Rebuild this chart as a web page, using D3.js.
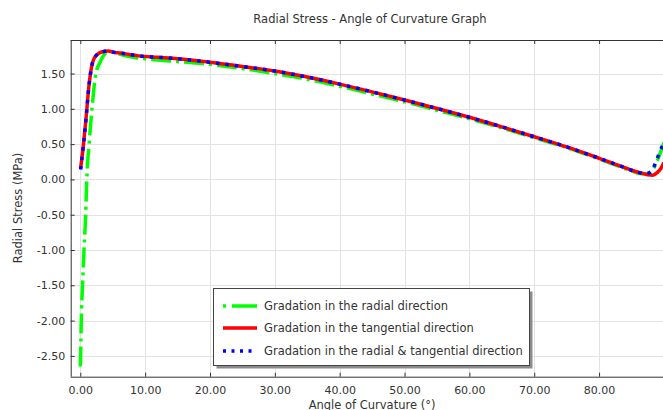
<!DOCTYPE html>
<html>
<head>
<meta charset="utf-8">
<script src="https://cdn.jsdelivr.net/npm/d3@7"></script>
<style>
  html, body { margin: 0; padding: 0; background: #fff; overflow: hidden; }
  svg { display: block; font-family: "DejaVu Sans", sans-serif; }
</style>
</head>
<body>
<svg id="chart" width="663" height="410"></svg>
<script>
// ---- data ----
const titleText = "Radial Stress - Angle of Curvature Graph";
const xLabel = "Angle of Curvature (°)";
const yLabel = "Radial Stress (MPa)";
const xTicks = [0, 10, 20, 30, 40, 50, 60, 70, 80];
const yTicks = [-2.5, -2.0, -1.5, -1.0, -0.5, 0.0, 0.5, 1.0, 1.5];
const seriesNames = [
  "Gradation in the radial direction",
  "Gradation in the tangential direction",
  "Gradation in the radial & tangential direction"
];

const angleRadial = [0.0, 0.05, 0.15, 0.35, 0.57, 0.83, 1.0, 1.36, 1.8, 2.4, 3.0, 3.8, 4.5, 5.5, 7, 9, 12, 15, 20, 25, 30, 35, 40, 45, 50, 55, 60, 65, 70, 75, 80, 83, 85, 86.5, 87.5, 88.3, 89, 89.5, 90];
const stressRadial = [-2.65, -2.5, -2.0, -1.5, -1.0, -0.5, 0.0, 0.5, 1.0, 1.5, 1.65, 1.78, 1.81, 1.79, 1.75, 1.72, 1.69, 1.67, 1.63, 1.57, 1.50, 1.42, 1.32, 1.21, 1.10, 0.98, 0.86, 0.73, 0.59, 0.45, 0.29, 0.19, 0.12, 0.08, 0.08, 0.14, 0.27, 0.39, 0.52];

const angleTangential = [0.05, 0.45, 0.85, 1.35, 1.9, 2.6, 3.5, 4.3, 5.2, 6.2, 7.5, 9, 12, 15, 20, 25, 30, 35, 40, 45, 50, 55, 60, 65, 70, 75, 80, 83, 85, 86.5, 87.5, 88.3, 89, 89.5, 90];
const stressTangential = [0.16, 0.46, 0.83, 1.34, 1.66, 1.77, 1.81, 1.82, 1.80, 1.79, 1.77, 1.75, 1.73, 1.71, 1.66, 1.60, 1.535, 1.45, 1.35, 1.24, 1.125, 1.005, 0.88, 0.745, 0.605, 0.46, 0.30, 0.20, 0.13, 0.09, 0.065, 0.06, 0.10, 0.15, 0.24];

const angleBoth = [0.05, 0.45, 0.85, 1.35, 1.9, 2.6, 3.5, 4.3, 5.2, 6.2, 7.5, 9, 12, 15, 20, 25, 30, 35, 40, 45, 50, 55, 60, 65, 70, 75, 80, 83, 85, 86.5, 87.2, 88.0, 88.7, 89.3, 90];
const stressBoth = [0.14, 0.46, 0.83, 1.34, 1.66, 1.77, 1.81, 1.82, 1.80, 1.79, 1.77, 1.75, 1.73, 1.71, 1.66, 1.60, 1.535, 1.45, 1.35, 1.24, 1.125, 1.005, 0.88, 0.745, 0.605, 0.46, 0.30, 0.20, 0.13, 0.09, 0.08, 0.11, 0.23, 0.38, 0.52];

const seriesColors = ["#00ff00", "#ff0000", "#0000ff"];
const seriesDash = ["20,5,3,5", null, "3.5,6"];

// ---- layout ----
const svg = d3.select("#chart");
const pLeft = 70.7, pRight = 670.4, pTop = 40, pBottom = 376.7;
const x = d3.scaleLinear().domain([-1.48, 91]).range([pLeft, pRight]);
const y = d3.scaleLinear().domain([-2.795, 1.975]).range([pBottom, pTop]);
const textColor = "#333";

// title
svg.append("text").attr("x", 370).attr("y", 23).attr("text-anchor", "middle")
  .attr("font-size", 11.5).attr("fill", textColor).text(titleText);

// grid
const grid = svg.append("g").attr("stroke", "#e3e3e3").attr("stroke-width", 1);
grid.selectAll(".gx").data(xTicks).join("line")
  .attr("x1", d => Math.round(x(d)) + 0.5).attr("x2", d => Math.round(x(d)) + 0.5)
  .attr("y1", pTop).attr("y2", pBottom);
grid.selectAll(".gy").data(yTicks).join("line")
  .attr("y1", d => Math.round(y(d)) + 0.5).attr("y2", d => Math.round(y(d)) + 0.5)
  .attr("x1", pLeft).attr("x2", pRight);

// clip
svg.append("clipPath").attr("id", "clip").append("rect")
  .attr("x", pLeft).attr("y", pTop).attr("width", pRight - pLeft).attr("height", pBottom - pTop);

const series = [
  { a: angleRadial, v: stressRadial },
  { a: angleTangential, v: stressTangential },
  { a: angleBoth, v: stressBoth }
];
const line = d3.line().x(d => x(d[0])).y(d => y(d[1])).curve(d3.curveMonotoneX);
const plot = svg.append("g").attr("clip-path", "url(#clip)");
series.forEach((s, i) => {
  plot.append("path")
    .datum(s.a.map((a, j) => [a, s.v[j]]))
    .attr("d", line)
    .attr("fill", "none")
    .attr("stroke", seriesColors[i])
    .attr("stroke-width", 3.5)
    .attr("stroke-dasharray", seriesDash[i]);
});

// axes
const fmt = v => v.toFixed(2);
const ax = svg.append("g").attr("transform", `translate(0,${pBottom})`)
  .call(d3.axisBottom(x).tickValues(xTicks).tickFormat(fmt).tickSize(-4).tickPadding(9.5).tickSizeOuter(0));
const ay = svg.append("g").attr("transform", `translate(${pLeft},0)`)
  .call(d3.axisLeft(y).tickValues(yTicks).tickFormat(fmt).tickSize(-4).tickPadding(5.5).tickSizeOuter(0));
const at = svg.append("g").attr("transform", `translate(0,${pTop})`)
  .call(d3.axisTop(x).tickValues(xTicks).tickFormat("").tickSize(-4).tickSizeOuter(0));
[ax, ay, at].forEach(g => {
  g.select(".domain").attr("stroke", "#333");
  g.selectAll(".tick line").attr("stroke", "#333");
  g.selectAll("text").attr("font-size", 11).attr("fill", textColor).attr("font-family", "DejaVu Sans");
});
ax.select(".domain").attr("d", `M${pLeft},0.5H${pRight}`);
at.select(".domain").attr("d", `M${pLeft},0.5H${pRight}`);
ay.select(".domain").attr("d", `M0.5,${pTop}V${pBottom}`);

// axis labels
svg.append("text").attr("x", 372).attr("y", 408.5).attr("text-anchor", "middle")
  .attr("font-size", 11.5).attr("fill", textColor).text(xLabel);
svg.append("text").attr("transform", "translate(22,208) rotate(-90)").attr("text-anchor", "middle")
  .attr("font-size", 11.5).attr("fill", textColor).text(yLabel);

// legend
const lg = svg.append("g");
const lx = 213.5, ly = 288.5, lw = 316, lh = 77;
lg.append("rect").attr("x", lx + 3).attr("y", ly + 3).attr("width", lw).attr("height", lh).attr("fill", "#8c8c8c");
lg.append("rect").attr("x", lx).attr("y", ly).attr("width", lw).attr("height", lh)
  .attr("fill", "#fff").attr("stroke", "#444").attr("stroke-width", 1);
const legendDash = ["3,6,26,0", null, "3,5.5"];
const rowsY = [306, 328, 351];
seriesNames.forEach((name, i) => {
  lg.append("line").attr("x1", 223).attr("x2", 257).attr("y1", rowsY[i]).attr("y2", rowsY[i])
    .attr("stroke", seriesColors[i]).attr("stroke-width", 3.5).attr("stroke-dasharray", legendDash[i]);
  lg.append("text").attr("x", 264).attr("y", rowsY[i]).attr("dy", "0.35em")
    .attr("font-size", 11.5).attr("fill", textColor).text(name);
});
</script>
</body>
</html>
